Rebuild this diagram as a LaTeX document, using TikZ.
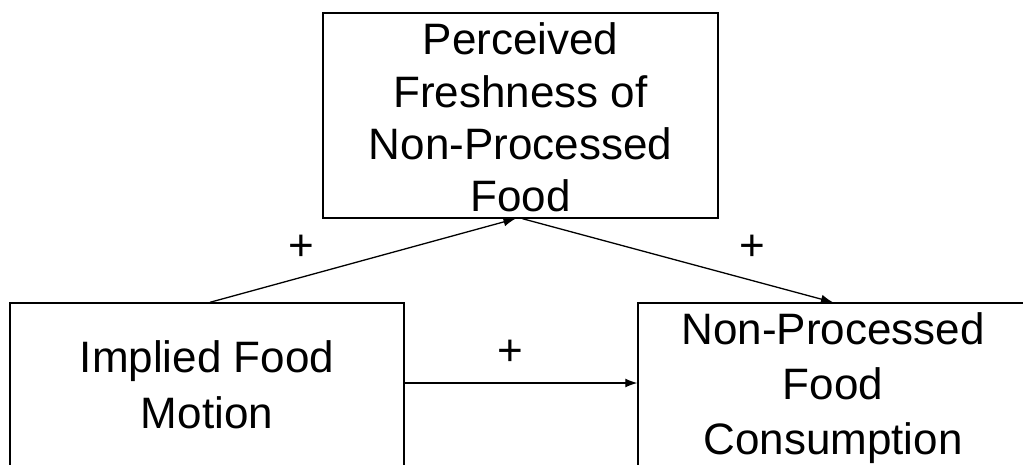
\documentclass[tikz,border=0pt]{standalone}
\usepackage{fontspec}
\setmainfont{Liberation Sans}
\usetikzlibrary{arrows.meta,calc}
\begin{document}
\begin{tikzpicture}[x=1pt,y=-1pt,
  box/.style={draw=black,line width=1.4pt,inner sep=0pt},
  txt/.style={inner sep=0pt,align=center,font=\fontsize{44}{54}\selectfont},
  sign/.style={inner sep=0pt,font=\fontsize{44}{54}\selectfont},
  conn/.style={line width=1.3pt,-{Latex[length=12pt,width=9pt]}}]
\useasboundingbox (0,0) rectangle (1023,464);
\clip (0,0) rectangle (1023,464);
% boxes
\node[box,minimum width=395pt,minimum height=205pt] (top) at (520.5,115.5) {};
\node[box,minimum width=394pt,minimum height=172pt] (left) at (207,389) {};
\node[box,minimum width=400pt,minimum height=172pt] (right) at (838,389) {};
% texts
\node[txt,font=\fontsize{44}{52.3}\selectfont] (toptext) at (520.5,117.5) {Perceived\\Freshness of\\Non-Processed\\Food};
\node[txt,font=\fontsize{44}{56}\selectfont] (lefttext) at (207,385) {Implied Food\\Motion};
\node[txt,font=\fontsize{44}{55}\selectfont] (righttext) at (833,388.5) {Non-Processed\\Food\\Consumption};
% connectors
\draw[conn] ([xshift=3pt]left.north) -- ([xshift=-5pt]top.south);
\draw[conn] ([xshift=2pt]top.south) -- ([xshift=-5pt]right.north);
\draw[conn] ([yshift=6pt]left.east) -- ([yshift=6pt]right.west);
% signs
\node[sign] (p1) at (301,248) {+};
\node[sign] (p2) at (752,248) {+};
\node[sign] (p3) at (510,353) {+};
\end{tikzpicture}
\end{document}
